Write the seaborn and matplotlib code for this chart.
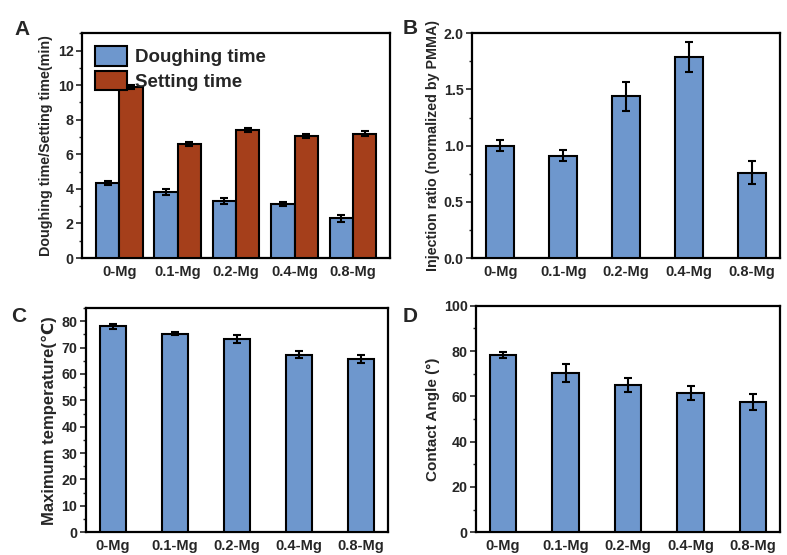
import seaborn as sns
import pandas as pd
import matplotlib.pyplot as plt
from matplotlib.ticker import MultipleLocator

groups = ["0-Mg", "0.1-Mg", "0.2-Mg", "0.4-Mg", "0.8-Mg"]

dough_time = [4.35, 3.8, 3.3, 3.15, 2.3]
dough_err = [0.12, 0.18, 0.2, 0.12, 0.2]
set_time = [9.9, 6.6, 7.4, 7.05, 7.2]
set_err = [0.12, 0.12, 0.12, 0.12, 0.14]

inject = [1.0, 0.91, 1.44, 1.79, 0.76]
inject_err = [0.05, 0.05, 0.13, 0.13, 0.1]

max_temp = [78.0, 75.3, 73.3, 67.3, 65.7]
max_temp_err = [0.9, 0.5, 1.5, 1.3, 1.5]

contact = [78.3, 70.3, 65.0, 61.5, 57.5]
contact_err = [1.3, 4.0, 3.0, 3.0, 3.5]

blue = "#6e97cd"
red = "#a53f1b"

sns.set_style("ticks")
plt.rcParams['font.family'] = ['Liberation Sans', 'DejaVu Sans']
plt.rcParams['font.weight'] = 'bold'
plt.rcParams['axes.labelweight'] = 'bold'

fig = plt.figure(figsize=(7.87, 5.55), dpi=100)
axA = fig.add_axes([0.104, 0.535, 0.392, 0.405])
axB = fig.add_axes([0.600, 0.535, 0.391, 0.405])
axC = fig.add_axes([0.109, 0.041, 0.384, 0.404])
axD = fig.add_axes([0.605, 0.041, 0.386, 0.408])


def style_axes(ax, ylabel, ymax, major, minor, label_size=10.3):
    ax.set_ylim(0, ymax)
    ax.yaxis.set_major_locator(MultipleLocator(major))
    ax.yaxis.set_minor_locator(MultipleLocator(minor))
    ax.set_xlabel("")
    ax.set_ylabel(ylabel, fontsize=label_size, fontweight="bold", labelpad=3)
    for s in ax.spines.values():
        s.set_visible(True)
        s.set_linewidth(1.6)
        s.set_color("black")
    ax.tick_params(axis="y", which="major", length=4, width=1.2, labelsize=10.3, pad=2)
    ax.tick_params(axis="y", which="minor", length=2.5, width=1.0)
    ax.tick_params(axis="x", length=0, labelsize=10.5, pad=5)


def add_errors(ax, container, errs):
    xs = [p.get_x() + p.get_width() / 2 for p in container]
    ys = [p.get_height() for p in container]
    ax.errorbar(xs, ys, yerr=errs, fmt="none", ecolor="black",
                elinewidth=1.5, capsize=3, capthick=1.5, zorder=5)


# A
dfA = pd.DataFrame({
    "group": groups * 2,
    "value": dough_time + set_time,
    "series": ["Doughing time"] * 5 + ["Setting time"] * 5,
})
sns.barplot(data=dfA, x="group", y="value", hue="series", palette=[blue, red],
            edgecolor="black", linewidth=1.5, width=0.8, saturation=1, ax=axA)
add_errors(axA, axA.containers[0], dough_err)
add_errors(axA, axA.containers[1], set_err)
style_axes(axA, "Doughing time/Setting time(min)", 13, 2, 1)
axA.legend(loc="upper left", frameon=False, prop={"weight": "bold", "size": 13.5},
           handlelength=1.7, handleheight=1.2, handletextpad=0.45, labelspacing=0.25,
           borderaxespad=0.3)

# B
dfB = pd.DataFrame({"group": groups, "value": inject})
sns.barplot(data=dfB, x="group", y="value", color=blue, edgecolor="black",
            linewidth=1.5, width=0.45, ax=axB, saturation=1)
add_errors(axB, axB.containers[0], inject_err)
style_axes(axB, "Injection ratio (normalized by PMMA)", 2.0, 0.5, 0.25)
axB.yaxis.set_major_formatter(plt.FormatStrFormatter("%.1f"))

# C
dfC = pd.DataFrame({"group": groups, "value": max_temp})
sns.barplot(data=dfC, x="group", y="value", color=blue, edgecolor="black",
            linewidth=1.5, width=0.42, ax=axC, saturation=1)
add_errors(axC, axC.containers[0], max_temp_err)
style_axes(axC, "Maximum temperature(\u2103)", 85, 10, 5, label_size=12)

# D
dfD = pd.DataFrame({"group": groups, "value": contact})
sns.barplot(data=dfD, x="group", y="value", color=blue, edgecolor="black",
            linewidth=1.5, width=0.42, ax=axD, saturation=1)
add_errors(axD, axD.containers[0], contact_err)
style_axes(axD, "Contact Angle (\u00b0)", 100, 20, 10, label_size=11)

for ax in [axA, axB, axC, axD]:
    for p in ax.patches:
        p.set_zorder(3)
    for lab in ax.get_xticklabels() + ax.get_yticklabels():
        lab.set_fontweight("bold")

for letter, (x, y) in zip("ABCD", [(0.028, 0.947), (0.521, 0.949), (0.024, 0.429), (0.521, 0.429)]):
    fig.text(x, y, letter, fontsize=15, fontweight="bold", ha="center", va="center")

fig.savefig("out.png", dpi=100)
